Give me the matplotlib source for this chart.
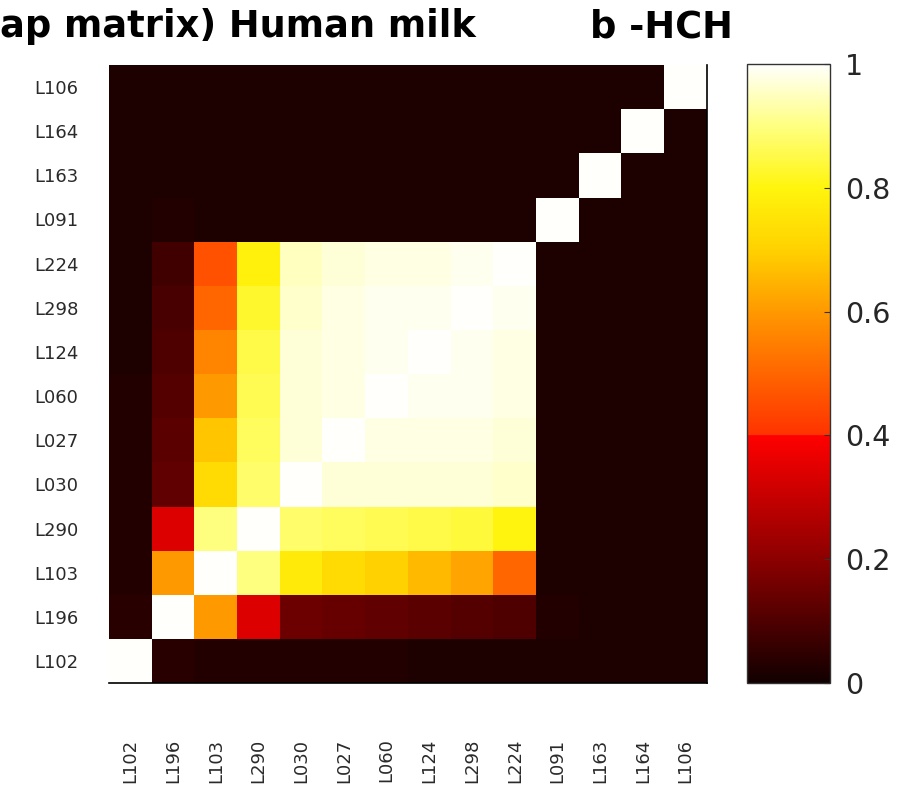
import numpy as np
import matplotlib
matplotlib.use("Agg")
import matplotlib.pyplot as plt
from matplotlib.colors import LinearSegmentedColormap

# ---- data ----
labels = ["L102", "L196", "L103", "L290", "L030", "L027", "L060",
          "L124", "L298", "L224", "L091", "L163", "L164", "L106"]

row_L102 = [1.00, 0.04, 0.03, 0.03, 0.03, 0.03, 0.03, 0.02, 0.02, 0.02, 0.02, 0.02, 0.02, 0.02]
row_L196 = [0.04, 1.00, 0.60, 0.34, 0.15, 0.14, 0.13, 0.12, 0.11, 0.10, 0.03, 0.02, 0.02, 0.02]
row_L103 = [0.03, 0.60, 1.00, 0.90, 0.77, 0.73, 0.70, 0.66, 0.62, 0.50, 0.02, 0.02, 0.02, 0.02]
row_L290 = [0.03, 0.34, 0.90, 1.00, 0.88, 0.87, 0.86, 0.85, 0.84, 0.80, 0.02, 0.02, 0.02, 0.02]
row_L030 = [0.03, 0.13, 0.73, 0.88, 1.00, 0.97, 0.97, 0.97, 0.97, 0.96, 0.02, 0.02, 0.02, 0.02]
row_L027 = [0.03, 0.12, 0.68, 0.87, 0.97, 1.00, 0.98, 0.98, 0.98, 0.97, 0.02, 0.02, 0.02, 0.02]
row_L060 = [0.03, 0.11, 0.60, 0.86, 0.97, 0.98, 1.00, 0.99, 0.99, 0.98, 0.02, 0.02, 0.02, 0.02]
row_L124 = [0.02, 0.10, 0.56, 0.85, 0.97, 0.98, 0.99, 1.00, 0.99, 0.98, 0.02, 0.02, 0.02, 0.02]
row_L298 = [0.02, 0.09, 0.50, 0.83, 0.96, 0.98, 0.99, 0.99, 1.00, 0.99, 0.02, 0.02, 0.02, 0.02]
row_L224 = [0.02, 0.08, 0.46, 0.79, 0.95, 0.97, 0.98, 0.98, 0.99, 1.00, 0.02, 0.02, 0.02, 0.02]
row_L091 = [0.02, 0.03, 0.02, 0.02, 0.02, 0.02, 0.02, 0.02, 0.02, 0.02, 1.00, 0.02, 0.02, 0.02]
row_L163 = [0.02, 0.02, 0.02, 0.02, 0.02, 0.02, 0.02, 0.02, 0.02, 0.02, 0.02, 1.00, 0.02, 0.02]
row_L164 = [0.02, 0.02, 0.02, 0.02, 0.02, 0.02, 0.02, 0.02, 0.02, 0.02, 0.02, 0.02, 1.00, 0.02]
row_L106 = [0.02, 0.02, 0.02, 0.02, 0.02, 0.02, 0.02, 0.02, 0.02, 0.02, 0.02, 0.02, 0.02, 1.00]

cbar_ticks = [0, 0.2, 0.4, 0.6, 0.8, 1]
cbar_ticklabels = ["0", "0.2", "0.4", "0.6", "0.8", "1"]

title_left = "ap matrix) Human milk"
title_right = "b -HCH"

matrix = np.array([row_L102, row_L196, row_L103, row_L290, row_L030, row_L027,
                   row_L060, row_L124, row_L298, row_L224, row_L091, row_L163,
                   row_L164, row_L106])

# ---- colormap (hot-like with a step at 0.4) ----
cmap = LinearSegmentedColormap.from_list("hotstep", [
    (0.0, (0.07, 0.0, 0.0)),
    (0.2, (0.55, 0.0, 0.0)),
    (0.399, (1.0, 0.0, 0.0)),
    (0.401, (1.0, 0.2, 0.0)),
    (0.5, (1.0, 0.4, 0.0)),
    (0.6, (1.0, 0.6, 0.0)),
    (0.7, (1.0, 0.82, 0.0)),
    (0.8, (1.0, 0.96, 0.05)),
    (0.9, (1.0, 1.0, 0.5)),
    (1.0, (1.0, 1.0, 0.99)),
], N=512)

plt.rcParams['font.family'] = ['DejaVu Sans']

fig = plt.figure(figsize=(9.01, 7.95), dpi=100)
ax = fig.add_axes([109/901, 1-683/795, (707-109)/901, (683-65)/795])
n = len(labels)
im = ax.imshow(matrix, cmap=cmap, vmin=0, vmax=1, origin='lower',
               aspect='auto', interpolation='nearest')
ax.set_xticks(np.arange(n))
ax.set_yticks(np.arange(n))
ax.set_xticklabels(labels, rotation=90, fontsize=13, color='#2a2a2a')
ax.set_yticklabels(labels, fontsize=13, color='#2a2a2a')
ax.tick_params(axis='both', length=0)
ax.tick_params(axis='y', pad=22)
ax.tick_params(axis='x', pad=40)
for s in ['left', 'top']:
    ax.spines[s].set_visible(False)
for s in ['bottom', 'right']:
    ax.spines[s].set_linewidth(1.2)
    ax.spines[s].set_color('black')

cax = fig.add_axes([747/901, 1-683/795, (830-747)/901, (683-64)/795])
cb = fig.colorbar(im, cax=cax, ticks=cbar_ticks)
cb.ax.set_yticklabels(cbar_ticklabels)
cb.ax.tick_params(labelsize=20.5, direction='in', length=4, width=0.8,
                  pad=11, colors='#333333', labelcolor='#262626')
cb.outline.set_linewidth(1.0)
cb.outline.set_edgecolor('#333333')

fig.text(0.0, 1-37/795, title_left, fontsize=26.5, fontweight='bold',
         ha='left', va='baseline')
fig.text(590/901, 1-37/795, title_right, fontsize=26.5, fontweight='bold',
         ha='left', va='baseline')

fig.savefig("out.png", dpi=100, facecolor='white')
